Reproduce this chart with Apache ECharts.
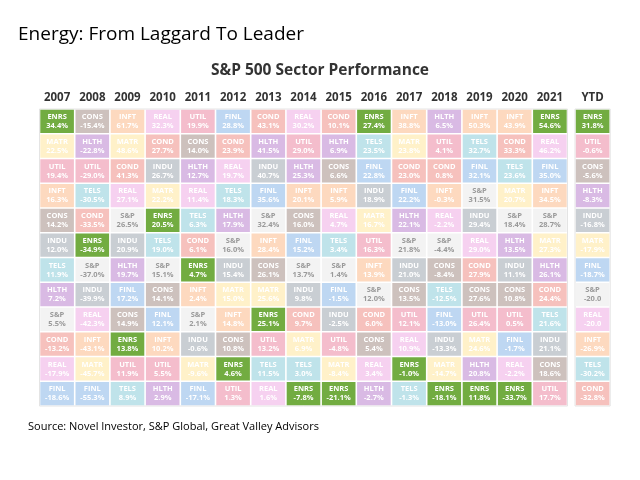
<!DOCTYPE html>
<html>
<head>
<meta charset="utf-8">
<script src="https://cdn.jsdelivr.net/npm/echarts@6/dist/echarts.min.js"></script>
<style>html,body{margin:0;padding:0;background:#fff;}#c{width:640px;height:480px;}</style>
</head>
<body>
<div id="c"></div>
<script>
const years = ['2007','2008','2009','2010','2011','2012','2013','2014','2015','2016','2017','2018','2019','2020','2021'];
const ytdLabel = ['YTD'];
const ranks = ['1','2','3','4','5','6','7','8','9','10','11','12'];

// sector codes per column, ranked best to worst
const sectorCodes = [
  ['ENRS','MATR','UTIL','INFT','CONS','INDU','TELS','HLTH','S&P','COND','REAL','FINL'],
  ['CONS','HLTH','UTIL','TELS','COND','ENRS','S&P','INDU','REAL','INFT','MATR','FINL'],
  ['INFT','MATR','COND','REAL','S&P','INDU','HLTH','FINL','CONS','ENRS','UTIL','TELS'],
  ['REAL','COND','INDU','MATR','ENRS','TELS','S&P','CONS','FINL','INFT','UTIL','HLTH'],
  ['UTIL','CONS','HLTH','REAL','TELS','COND','ENRS','INFT','S&P','INDU','MATR','FINL'],
  ['FINL','COND','REAL','TELS','HLTH','S&P','INDU','MATR','INFT','CONS','ENRS','UTIL'],
  ['COND','HLTH','INDU','FINL','S&P','INFT','CONS','MATR','ENRS','UTIL','TELS','REAL'],
  ['REAL','UTIL','HLTH','INFT','CONS','FINL','S&P','INDU','COND','MATR','TELS','ENRS'],
  ['COND','HLTH','CONS','INFT','REAL','TELS','S&P','FINL','INDU','UTIL','MATR','ENRS'],
  ['ENRS','TELS','FINL','INDU','MATR','UTIL','INFT','S&P','COND','CONS','REAL','HLTH'],
  ['INFT','MATR','COND','FINL','HLTH','S&P','INDU','CONS','UTIL','REAL','ENRS','TELS'],
  ['HLTH','UTIL','COND','INFT','REAL','S&P','CONS','TELS','FINL','INDU','MATR','ENRS'],
  ['INFT','TELS','FINL','S&P','INDU','REAL','COND','CONS','UTIL','MATR','HLTH','ENRS'],
  ['INFT','COND','TELS','MATR','S&P','HLTH','INDU','CONS','UTIL','FINL','REAL','ENRS'],
  ['ENRS','REAL','FINL','INFT','S&P','MATR','HLTH','COND','TELS','INDU','CONS','UTIL']
];
const returnsPct = [
  [34.4,22.5,19.4,16.3,14.2,12.0,11.9,7.2,5.5,-13.2,-17.9,-18.6],
  [-15.4,-22.8,-29.0,-30.5,-33.5,-34.9,-37.0,-39.9,-42.3,-43.1,-45.7,-55.3],
  [61.7,48.6,41.3,27.1,26.5,20.9,19.7,17.2,14.9,13.8,11.9,8.9],
  [32.3,27.7,26.7,22.2,20.5,19.0,15.1,14.1,12.1,10.2,5.5,2.9],
  [19.9,14.0,12.7,11.4,6.3,6.1,4.7,2.4,2.1,-0.6,-9.6,-17.1],
  [28.8,23.9,19.7,18.3,17.9,16.0,15.4,15.0,14.8,10.8,4.6,1.3],
  [43.1,41.5,40.7,35.6,32.4,28.4,26.1,25.6,25.1,13.2,11.5,1.6],
  [30.2,29.0,25.3,20.1,16.0,15.2,13.7,9.8,9.7,6.9,3.0,-7.8],
  [10.1,6.9,6.6,5.9,4.7,3.4,1.4,-1.5,-2.5,-4.8,-8.4,-21.1],
  [27.4,23.5,22.8,18.9,16.7,16.3,13.9,12.0,6.0,5.4,3.4,-2.7],
  [38.8,23.8,23.0,22.2,22.1,21.8,21.0,13.5,12.1,10.9,-1.0,-1.3],
  [6.5,4.1,0.8,-0.3,-2.2,-4.4,-8.4,-12.5,-13.0,-13.3,-14.7,-18.1],
  [50.3,32.7,32.1,31.5,29.4,29.0,27.9,27.6,26.4,24.6,20.8,11.8],
  [43.9,33.3,23.6,20.7,18.4,13.5,11.1,10.8,0.5,-1.7,-2.2,-33.7],
  [54.6,46.2,35.0,34.5,28.7,27.3,26.1,24.4,21.6,21.1,18.6,17.7]
];
const ytdSectors = ['ENRS','UTIL','CONS','HLTH','INDU','MATR','FINL','S&P','REAL','INFT','TELS','COND'];
const ytdReturns = [31.8,-0.6,-5.6,-8.3,-16.8,-17.9,-18.7,-20.0,-20.0,-26.9,-30.2,-32.8];
const ytdWithoutPct = ['S&P','REAL'];

const sectorColors = {
  'ENRS':'#72ac41','CONS':'#cdc1bd','INFT':'#fdd9bf','REAL':'#f6d1f0','UTIL':'#f4bdcc',
  'FINL':'#bed7f2','COND':'#f6c1bd','MATR':'#fff1c9','HLTH':'#d9bae4','TELS':'#bfe3ea',
  'INDU':'#c9ced3','S&P':'#f3f3f3'
};

const mainCells = [];
sectorCodes.forEach((col, xi) => {
  col.forEach((code, yi) => {
    mainCells.push({value:[xi, yi], code:code, label: returnsPct[xi][yi].toFixed(1) + '%'});
  });
});
const ytdCells = ytdSectors.map((code, yi) => ({
  value:[0, yi], code:code,
  label: ytdReturns[yi].toFixed(1) + (ytdWithoutPct.includes(code) ? '' : '%')
}));

function makeRender(cells) {
  return function(params, api) {
    const item = cells[params.dataIndex];
    const c = api.coord([api.value(0), api.value(1)]);
    const s = api.size([1, 1]);
    const isSP = item.code === 'S&P';
    const txt = isSP ? '#9a9a9a' : '#ffffff';
    const g = 0.8;
    return {
      type:'group',
      children:[
        {type:'rect', shape:{x:c[0]-s[0]/2+g, y:c[1]-s[1]/2+g, width:s[0]-2*g, height:s[1]-2*g},
         style:{fill:sectorColors[item.code]}},
        {type:'text', style:{text:item.code, x:c[0], y:c[1]-4.3, align:'center', verticalAlign:'middle',
          fill:txt, fontSize:7.5, fontWeight:'bold', fontFamily:'Open Sans'}},
        {type:'text', style:{text:item.label, x:c[0], y:c[1]+4.5, align:'center', verticalAlign:'middle',
          fill:txt, fontSize:7.5, fontWeight:'bold', fontFamily:'Open Sans'}}
      ]
    };
  };
}

const axisX = (data, gi) => ({
  type:'category', data:data, gridIndex:gi, position:'top',
  axisLine:{show:false}, axisTick:{show:false}, splitLine:{show:false},
  axisLabel:{color:'#333', fontSize:11.5, fontWeight:'bold', fontFamily:'Open Sans', margin:5, interval:0}
});
const axisY = (gi) => ({
  type:'category', data:ranks, gridIndex:gi, inverse:true, show:false
});

const chart = echarts.init(document.getElementById('c'), null, {renderer:'canvas'});
chart.setOption({
  animation:false,
  backgroundColor:'#fff',
  title:[
    {text:'Energy: From Laggard To Leader', left:18, top:25, padding:0,
     textStyle:{fontSize:19, fontWeight:'normal', color:'#000', fontFamily:'Open Sans'}},
    {text:'S&P 500 Sector Performance', left:'center', top:63, padding:0,
     textStyle:{fontSize:15.5, fontWeight:'bold', color:'#333', fontFamily:'Open Sans'}},
    {text:'Source: Novel Investor, S&P Global, Great Valley Advisors', left:28, top:421, padding:0,
     textStyle:{fontSize:11, fontWeight:'normal', color:'#000', fontFamily:'Open Sans'}}
  ],
  grid:[
    {left:39.5, top:109, width:528, height:297, show:true, borderColor:'#e4e4e4', borderWidth:1, backgroundColor:'transparent'},
    {left:575, top:109, width:35.2, height:297, show:true, borderColor:'#e4e4e4', borderWidth:1, backgroundColor:'transparent'}
  ],
  xAxis:[axisX(years, 0), axisX(ytdLabel, 1)],
  yAxis:[axisY(0), axisY(1)],
  series:[
    {type:'custom', xAxisIndex:0, yAxisIndex:0, data:mainCells, renderItem:makeRender(mainCells)},
    {type:'custom', xAxisIndex:1, yAxisIndex:1, data:ytdCells, renderItem:makeRender(ytdCells)}
  ]
});
</script>
</body>
</html>
